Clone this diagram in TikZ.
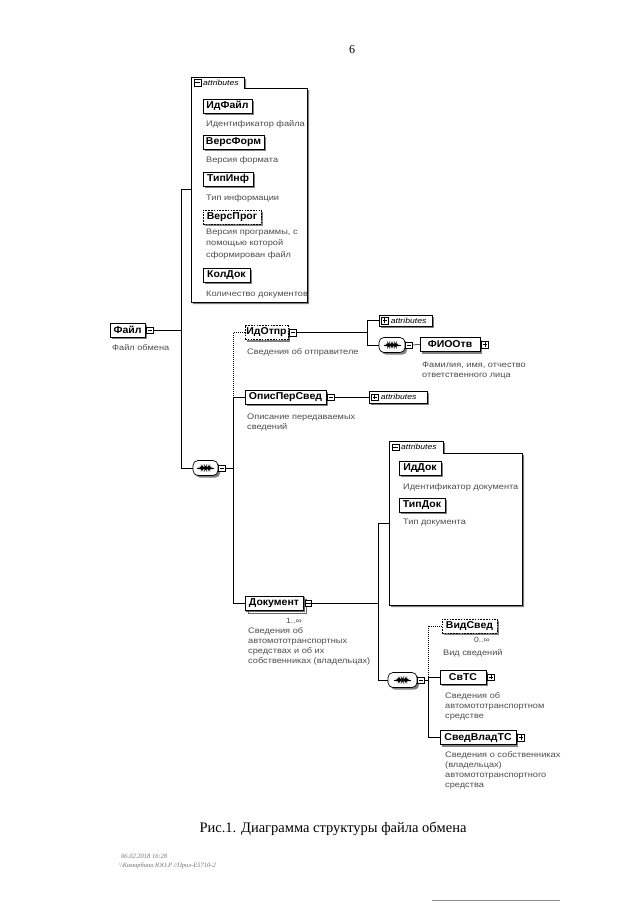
\documentclass[tikz,border=0pt]{standalone}
\usepackage{fontspec}
\setmainfont{Liberation Serif}
\newfontfamily\sansf[FakeStretch=1.05]{Liberation Sans}
\newfontfamily\descf[FakeStretch=1.15]{Liberation Sans}
\usetikzlibrary{shadows,calc}
\begin{document}
\begin{tikzpicture}[x=1pt,y=-1pt,
  shd/.style={drop shadow={shadow xshift=2.2pt,shadow yshift=-2.2pt,fill=black!50,opacity=1}},
  elembase/.style={draw,line width=0.8pt,fill=white,inner sep=0,minimum height=14pt,font=\sansf\bfseries\fontsize{10}{12}\selectfont},
  elem/.style={elembase,shd},
  optelem/.style={elem,dash pattern=on 1.6pt off 1.2pt},
  multielem/.style={elembase,double copy shadow={shadow xshift=1.8pt,shadow yshift=-1.8pt,draw=black!60,fill=white}},
  expbox/.style={draw,fill=white,inner sep=0,minimum size=6.5pt,line width=0.5pt,anchor=west},
  minusx/.style={expbox,path picture={\draw[black,line width=0.5pt] ($(path picture bounding box.center)+(-2.2,0)$) -- ++(4.4,0);}},
  plusx/.style={expbox,path picture={\draw[black,line width=0.5pt] ($(path picture bounding box.center)+(-2.2,0)$) -- ++(4.4,0) ($(path picture bounding box.center)+(0,-2.2)$) -- ++(0,4.4);}},
  seqbox/.style={draw,fill=white,line width=0.7pt,rounded corners=5pt,inner sep=0,minimum width=26pt,minimum height=15pt,shd,
    path picture={\draw[black,line width=0.7pt] ($(path picture bounding box.center)+(-8.5,0)$) -- ++(17,0);
      \foreach \dd in {-3.5,0,3.5} \fill[black] ($(path picture bounding box.center)+(\dd,0)+(-1.1,-1.1)$) rectangle ++(2.2,2.2);}},
  attrc/.style={draw,fill=white,line width=0.6pt,inner sep=0,minimum height=11pt,shd},
  attrtxt/.style={anchor=west,inner sep=0,font=\descf\itshape\fontsize{7.5}{9}\selectfont},
  attrframe/.style={draw,fill=white,line width=0.6pt,shd},
  desc/.style={anchor=north west,inner sep=0,align=left,text=black!70,font=\descf\fontsize{8}{10}\selectfont,execute at begin node={\rule{0pt}{7pt}}},
  mult/.style={anchor=east,inner sep=0,text=black!70,font=\descf\fontsize{7.5}{9}\selectfont},
  conn/.style={line width=0.6pt},
  optconn/.style={line width=0.6pt,dash pattern=on 1pt off 1pt}
]
\useasboundingbox[fill=white] (0,0) rectangle (640,905);

% page number
\node[font=\fontsize{12}{14}\selectfont] (pnum) at (352,50) {6};

% ---------- attributes box 1 ----------
\node[inner sep=0,minimum width=116pt,minimum height=225pt,anchor=north west] (attr1) at (191,77) {};
\filldraw[attrframe] (191,77) -- (244,77) -- (244,88) -- (307,88) -- (307,302) -- (191,302) -- cycle;
\node[minusx] (attr1m) at (194,82.5) {};
\node[attrtxt] (attr1t) at ([xshift=2pt]attr1m.east) {attributes};

\node[elem,minimum width=49pt] (idfajl) at (227.5,106) {ИдФайл};
\node[desc] (idfajld) at (206,119) {Идентификатор файла};
\node[elem,minimum width=61pt] (versform) at (233.5,142) {ВерсФорм};
\node[desc] (versformd) at (206,155) {Версия формата};
\node[elem,minimum width=50pt] (tipinf) at (228,179) {ТипИнф};
\node[desc] (tipinfd) at (206,193) {Тип информации};
\node[optelem,minimum width=58pt] (versprog) at (232,217) {ВерсПрог};
\node[desc,font=\descf\fontsize{8}{11.5}\selectfont] (versprogd) at (206,228.5) {Версия программы, с\\помощью которой\\сформирован файл};
\node[elem,minimum width=47pt] (koldok) at (226.5,275) {КолДок};
\node[desc] (koldokd) at (206,289) {Количество документов};

% ---------- root ----------
\node[elem,minimum width=35pt] (fajl) at (127.5,330) {Файл};
\node[minusx] (fajlx) at ([xshift=1pt]fajl.east) {};
\node[desc] (fajld) at (112,343.5) {Файл обмена};

\node[seqbox,minimum width=25pt] (seq1) at (205.5,468) {};
\node[minusx] (seq1x) at (seq1.east) {};

\coordinate (b1) at (181,330);
\draw[conn] (fajlx.east) -- (b1);
\draw[conn] (attr1.west) -- (attr1.west -| b1) -- (seq1.west -| b1) -- (seq1.west);

% ---------- level 2 ----------
\node[optelem,minimum width=43pt] (idotpr) at (266.5,332.5) {ИдОтпр};
\node[minusx] (idotprx) at ([xshift=1pt]idotpr.east) {};
\node[desc] (idotprd) at (247,347.5) {Сведения об отправителе};

\node[elem,minimum width=81pt] (opis) at (285.5,397) {ОписПерСвед};
\node[minusx] (opisx) at ([xshift=1pt]opis.east) {};
\node[desc] (opisd) at (247,413.5) {Описание передаваемых\\сведений};

\node[multielem,minimum width=58pt] (dok) at (274,603) {Документ};
\node[minusx] (dokx) at ([xshift=1.5pt]dok.east) {};
\node[mult] (dokm) at (302,621) {1..∞};
\node[desc] (dokd) at (248,627.5) {Сведения об\\автомототранспортных\\средствах и об их\\собственниках (владельцах)};

\coordinate (b2) at (233,468);
\draw[conn] (seq1x.east) -- (b2);
\draw[optconn] (idotpr.west) -- (idotpr.west -| b2) -- (opis.west -| b2);
\draw[conn] (opis.west) -- (opis.west -| b2) -- (dok.west -| b2) -- (dok.west);

% ---------- ИдОтпр children ----------
\node[attrc,minimum width=53pt] (attrc1) at (405.5,320.5) {};
\node[plusx] (attrc1p) at ([xshift=2.5pt]attrc1.west) {};
\node[attrtxt] (attrc1t) at ([xshift=2.5pt]attrc1p.east) {attributes};

\node[seqbox] (seq2) at (392,345) {};
\node[minusx] (seq2x) at (seq2.east) {};

\node[elem,minimum width=60pt] (fio) at (450,344.5) {ФИООтв};
\node[plusx] (fiox) at ([xshift=1pt]fio.east) {};
\node[desc] (fiod) at (422,361.5) {Фамилия, имя, отчество\\ответственного лица};

\coordinate (b3) at (367,332.5);
\draw[conn] (idotprx.east) -- (b3);
\draw[conn] (attrc1.west) -- (attrc1.west -| b3) -- (seq2.west -| b3) -- (seq2.west);
\draw[conn] (seq2x.east) -- (fio.west);

% ---------- ОписПерСвед child ----------
\node[attrc,minimum width=58pt,minimum height=12pt] (attrc2) at (398,397) {};
\node[plusx] (attrc2p) at ([xshift=2.5pt]attrc2.west) {};
\node[attrtxt] (attrc2t) at ([xshift=2.5pt]attrc2p.east) {attributes};
\draw[conn] (opisx.east) -- (attrc2.west);

% ---------- attributes box 2 ----------
\node[inner sep=0,minimum width=133pt,minimum height=164pt,anchor=north west] (attr2) at (389,441) {};
\filldraw[attrframe] (389,441) -- (443,441) -- (443,453) -- (522,453) -- (522,605) -- (389,605) -- cycle;
\node[minusx] (attr2m) at (392,447) {};
\node[attrtxt] (attr2t) at ([xshift=2pt]attr2m.east) {attributes};

\node[elem,minimum width=42pt] (iddok) at (420,468) {ИдДок};
\node[desc] (iddokd) at (403,482.5) {Идентификатор документа};
\node[elem,minimum width=46pt] (tipdok) at (422,505) {ТипДок};
\node[desc] (tipdokd) at (403,517.5) {Тип документа};

% ---------- Документ children ----------
\node[seqbox,minimum width=29pt] (seq3) at (402.5,680) {};
\node[minusx] (seq3x) at (seq3.east) {};

\node[optelem,minimum width=55pt] (vid) at (469.5,626) {ВидСвед};
\node[mult] (vidm) at (490,640) {0..∞};
\node[desc] (vidd) at (443,648.5) {Вид сведений};

\node[elem,minimum width=46pt] (svts) at (463,677) {СвТС};
\node[plusx] (svtsx) at ([xshift=1pt]svts.east) {};
\node[desc] (svtsd) at (445,692.5) {Сведения об\\автомототранспортном\\средстве};

\node[elem,minimum width=76pt] (svvl) at (478,737.5) {СведВладТС};
\node[plusx] (svvlx) at ([xshift=1pt]svvl.east) {};
\node[desc] (svvld) at (445,751.5) {Сведения о собственниках\\(владельцах)\\автомототранспортного\\средства};

\coordinate (b4) at (378,603);
\draw[conn] (dokx.east) -- (b4);
\draw[conn] (attr2.west) -- (attr2.west -| b4) -- (seq3.west -| b4) -- (seq3.west);

\coordinate (b5) at (428,680);
\draw[conn] (seq3x.east) -- (b5);
\draw[optconn] (vid.west) -- (vid.west -| b5) -- (svts.west -| b5);
\draw[conn] (svts.west) -- (svts.west -| b5) -- (svvl.west -| b5) -- (svvl.west);

% ---------- caption and footer ----------
\node[font=\fontsize{14.5}{16}\selectfont] (cap) at (333,829) {Рис.1. Диаграмма структуры файла обмена};
\node[anchor=base west,inner sep=0,text=black!55,font=\itshape\fontsize{6.5}{8}\selectfont] (foot1) at (121,858) {06.02.2018 16:28};
\node[anchor=base west,inner sep=0,text=black!55,font=\itshape\fontsize{6.5}{8}\selectfont] (foot2) at (119,867) {\textbackslash\textbackslash Комарбино ЮО.Р //Прил-Е5710-2};
\draw[black!45,line width=0.8pt] (432,900) -- (560,900);
\end{tikzpicture}
\end{document}
